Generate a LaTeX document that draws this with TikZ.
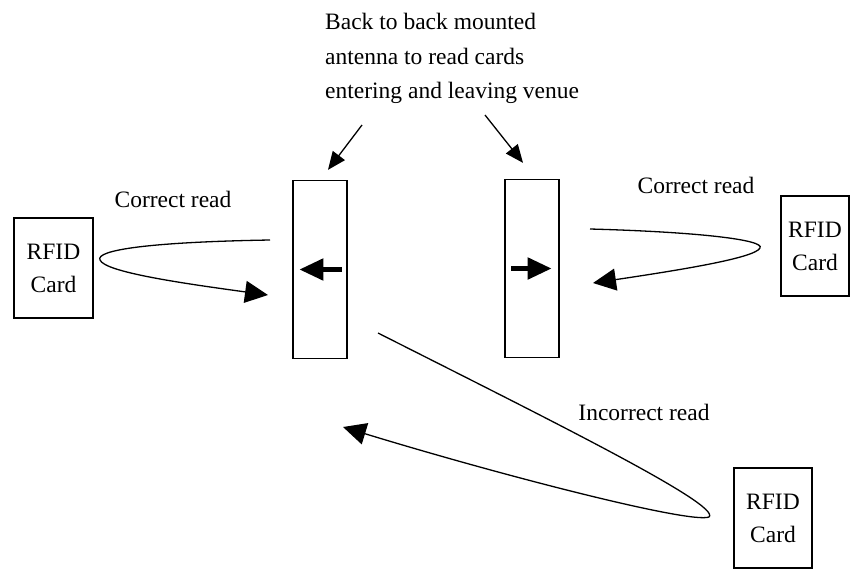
\documentclass[tikz,border=0pt]{standalone}
\usepackage{fontspec}
\setmainfont{Liberation Serif}
\usetikzlibrary{arrows.meta}

\begin{document}
\begin{tikzpicture}[x=1pt,y=-1pt,
    every node/.style={font=\fontsize{23.5}{33}\selectfont},
    antenna/.style={rectangle,draw,line width=1.3pt,minimum width=54pt,minimum height=178pt,inner sep=0pt},
    card/.style={rectangle,draw,line width=1.3pt,minimum height=100pt,align=center,inner sep=0pt},
    wave/.style={line width=1.3pt,-{Triangle[length=23pt,width=22pt]}},
    pointer/.style={line width=1.3pt,-{Triangle[length=18pt,width=15pt]}},
    field/.style={line width=5pt,-{Triangle[length=24pt,width=21pt]}}]
    \useasboundingbox (0,0) rectangle (850,571);

    % readers and cards
    \node[antenna] (ant_l) at (320,269.5) {};
    \node[antenna] (ant_r) at (532,268.5) {};
    \node[card,minimum width=79pt] (card_l) at (53.5,268) {RFID\\Card};
    \node[card,minimum width=68pt] (card_r) at (815,246) {RFID\\Card};
    \node[card,minimum width=78pt] (card_b) at (773,518) {RFID\\Card};

    % labels
    \node[anchor=north west,align=left,inner sep=0pt,font=\fontsize{23.5}{34.5}\selectfont] (note) at (325,13)
      {Back to back mounted\\antenna to read cards\\entering and leaving venue};
    \node[anchor=base] (read_l) at (173,207) {Correct read};
    \node[anchor=base] (read_r) at (696,193) {Correct read};
    \node[anchor=base] (read_b) at (644,420) {Incorrect read};

    % loop ends
    \coordinate (l_in) at (270,240);
    \coordinate (l_out) at (268,295);
    \coordinate (r_in) at (590,229);
    \coordinate (r_out) at (593,283);
    \coordinate (b_in) at (378,333);
    \coordinate (b_out) at (343,427);
    \coordinate (p_l) at (362,125);
    \coordinate (p_r) at (485,115);

    \draw[pointer] (p_l) -- ([shift={(8,-10)}]ant_l.north);
    \draw[pointer] (p_r) -- ([shift={(-9,-16)}]ant_r.north);

    \draw[field] ([xshift=-6pt]ant_l.east) -- ([xshift=7pt]ant_l.west);
    \draw[field] ([xshift=7pt]ant_r.west) -- ([xshift=-8pt]ant_r.east);

    \draw[wave] (l_in) .. controls (150,242) and (95,250) .. (100,260)
                       .. controls (105,272) and (180,283) .. (l_out);
    \draw[wave] (r_in) .. controls (700,232) and (765,240) .. (760,248)
                       .. controls (755,258) and (680,270) .. (r_out);
    \draw[wave] (b_in) .. controls (550,420) and (722,505) .. (709,517)
                       .. controls (690,524) and (500,475) .. (b_out);
\end{tikzpicture}
\end{document}
